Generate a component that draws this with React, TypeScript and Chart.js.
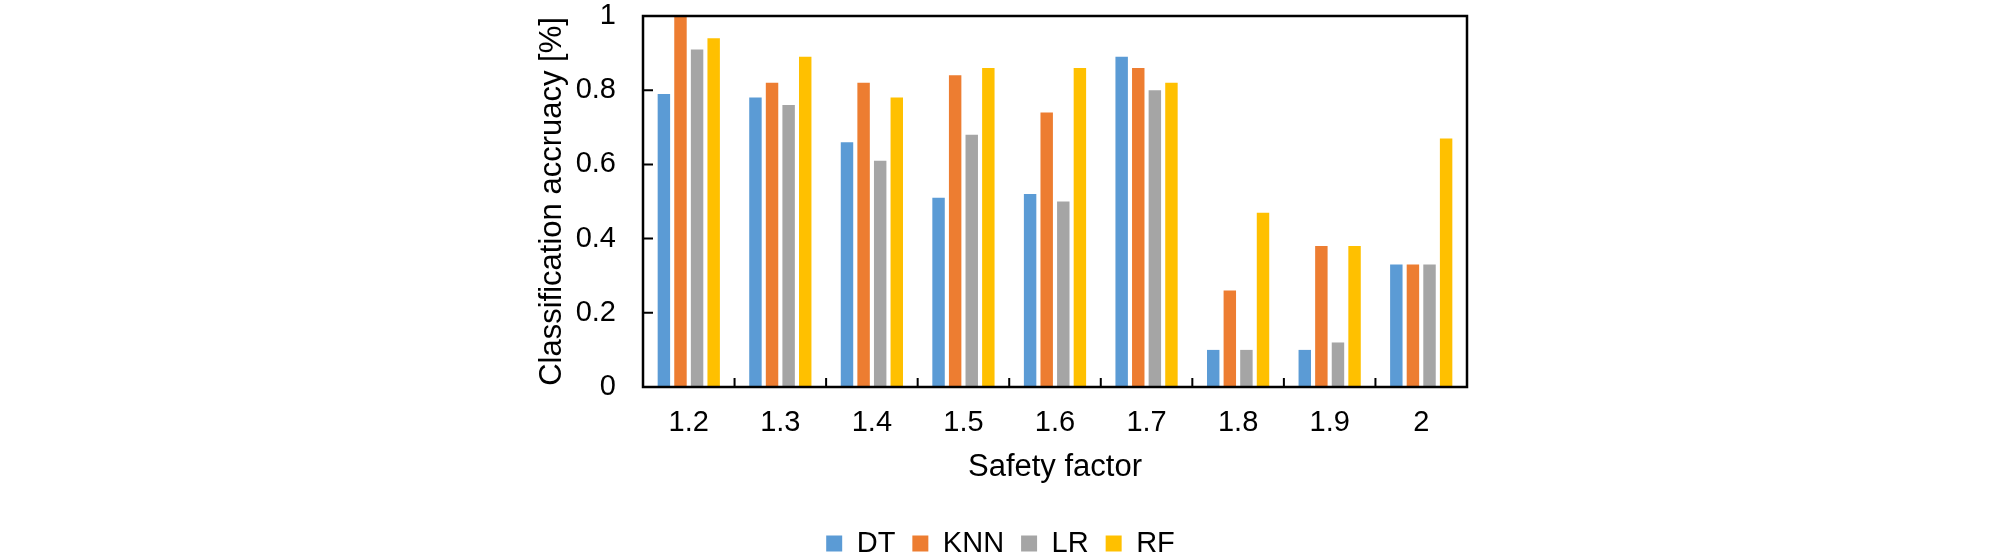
import React, { useEffect, useRef } from 'react';
import { Chart, registerables } from 'chart.js';

Chart.register(...registerables);

const categories = ['1.2', '1.3', '1.4', '1.5', '1.6', '1.7', '1.8', '1.9', '2'];
const dtValues = [0.79, 0.78, 0.66, 0.51, 0.52, 0.89, 0.10, 0.10, 0.33];
const knnValues = [1.0, 0.82, 0.82, 0.84, 0.74, 0.86, 0.26, 0.38, 0.33];
const lrValues = [0.91, 0.76, 0.61, 0.68, 0.50, 0.80, 0.10, 0.12, 0.33];
const rfValues = [0.94, 0.89, 0.78, 0.86, 0.86, 0.82, 0.47, 0.38, 0.67];
const seriesNames = ['DT', 'KNN', 'LR', 'RF'];
const seriesColors = ['#5B9BD5', '#ED7D31', '#A5A5A5', '#FFC000'];
const yTickValues = [0, 0.2, 0.4, 0.6, 0.8, 1];

const FONT = "'Liberation Sans', Arial, Helvetica, sans-serif";

const framePlugin = {
  id: 'frameTicks',
  afterDatasetsDraw(chart: any) {
    const { ctx, chartArea } = chart;
    const { left, right, top, bottom } = chartArea;
    const x = chart.scales.x;
    const y = chart.scales.y;
    ctx.save();
    ctx.strokeStyle = '#000';
    ctx.lineWidth = 2.5;
    ctx.strokeRect(left, top, right - left, bottom - top);
    ctx.lineWidth = 2;
    ctx.beginPath();
    y.ticks.forEach((t: any) => {
      const py = y.getPixelForValue(t.value);
      ctx.moveTo(left, py);
      ctx.lineTo(left + 10, py);
    });
    for (let i = 0; i < categories.length - 1; i++) {
      const px = (x.getPixelForValue(i) + x.getPixelForValue(i + 1)) / 2;
      ctx.moveTo(px, bottom);
      ctx.lineTo(px, bottom - 9);
    }
    ctx.stroke();
    ctx.restore();
  },
};

export default function App() {
  const canvasRef = useRef<HTMLCanvasElement | null>(null);

  useEffect(() => {
    if (!canvasRef.current) return;
    Chart.defaults.font.family = FONT;
    const values = [dtValues, knnValues, lrValues, rfValues];
    const chart = new Chart(canvasRef.current, {
      type: 'bar',
      data: {
        labels: categories,
        datasets: seriesNames.map((name, i) => ({
          label: name,
          data: values[i],
          backgroundColor: seriesColors[i],
          borderWidth: 0,
          barPercentage: 0.75,
          categoryPercentage: 0.725,
        })),
      },
      options: {
        animation: false,
        responsive: false,
        devicePixelRatio: 1,
        layout: { padding: { left: 534, right: 541, top: 0, bottom: -10 } },
        plugins: {
          legend: {
            position: 'bottom',
            labels: {
              boxWidth: 16,
              boxHeight: 16,
              padding: 17,
              color: '#000',
              font: { size: 29, family: FONT },
            },
          },
          tooltip: { enabled: false },
        },
        scales: {
          x: {
            grid: { display: false, drawTicks: false },
            border: { display: false },
            ticks: { color: '#000', font: { size: 29, family: FONT }, padding: 19 },
            title: {
              display: true,
              text: 'Safety factor',
              color: '#000',
              font: { size: 31, family: FONT },
              padding: { top: 0, bottom: 26 },
            },
            afterFit: (s: any) => {
              s.height = 125;
            },
          },
          y: {
            min: 0,
            max: 1,
            afterBuildTicks: (s: any) => {
              s.ticks = yTickValues.map((v) => ({ value: v }));
            },
            grid: { display: false, drawTicks: false },
            border: { display: false },
            ticks: {
              color: '#000',
              font: { size: 29, family: FONT },
              padding: 27,
              callback: (v: any) => String(Math.round(Number(v) * 10) / 10),
            },
            title: {
              display: true,
              text: 'Classification accruacy [%]',
              color: '#000',
              font: { size: 31, family: FONT },
              padding: { top: 0, bottom: 0 },
            },
            afterFit: (s: any) => {
              s.width = 109;
              s.paddingTop = 16;
              s.paddingBottom = 0;
            },
          },
        },
      },
      plugins: [framePlugin],
    });
    return () => chart.destroy();
  }, []);

  return (
    <div style={{ position: 'fixed', left: 0, top: 0, width: 2008, height: 558, background: '#fff' }}>
      <canvas ref={canvasRef} width={2008} height={558} style={{ display: 'block' }} />
    </div>
  );
}
